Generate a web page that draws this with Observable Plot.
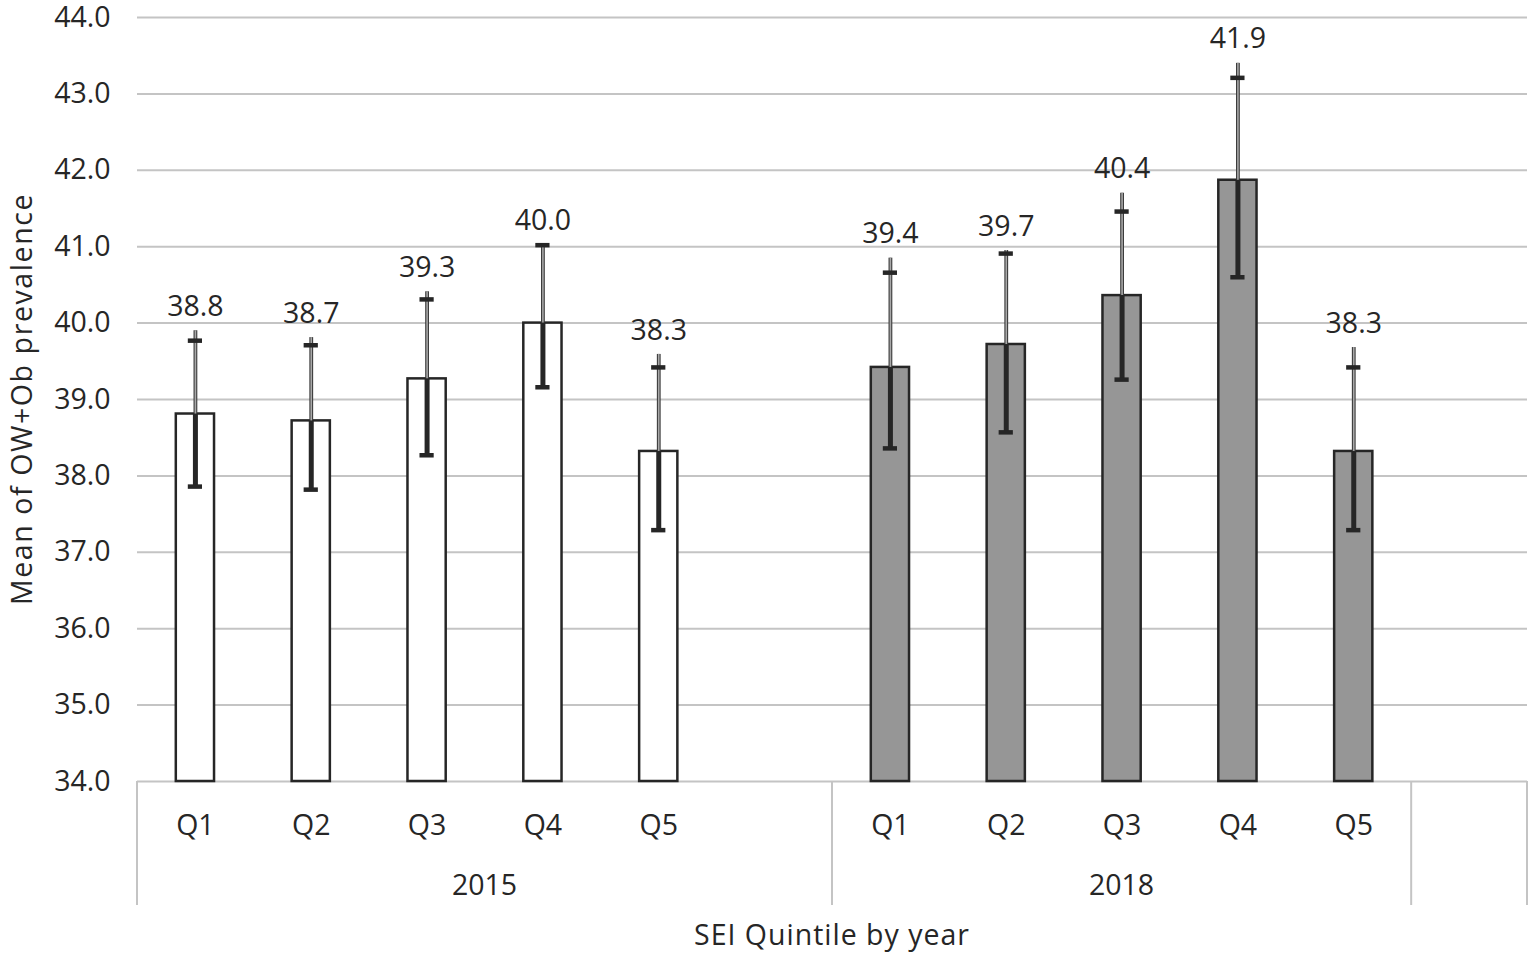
<!DOCTYPE html>
<html><head><meta charset="utf-8">
<script src="https://cdn.jsdelivr.net/npm/d3@7"></script>
<script src="https://cdn.jsdelivr.net/npm/@observablehq/plot@0.6"></script>
<style>html,body{margin:0;padding:0;background:#fff;overflow:hidden}</style>
</head><body><div id="chart"></div>
<script>
// ---- data ----
const years = ["2015", "2018"];
const quintiles = ["Q1", "Q2", "Q3", "Q4", "Q5"];
const mean2015 = [38.81, 38.72, 39.27, 40.00, 38.32];
const mean2018 = [39.42, 39.72, 40.36, 41.87, 38.32];
const lower2015 = [37.86, 37.82, 38.27, 39.16, 37.29];
const lower2018 = [38.36, 38.57, 39.26, 40.60, 37.29];
const upper2015 = [39.77, 39.71, 40.31, 41.02, 39.42];
const upper2018 = [40.66, 40.91, 41.46, 43.21, 39.42];
const whisker2015 = [39.90, 39.81, 40.41, 41.02, 39.59];
const whisker2018 = [40.85, 40.95, 41.70, 43.40, 39.68];
const yTicks = [34, 35, 36, 37, 38, 39, 40, 41, 42, 43, 44];
const yLabel = "Mean of OW+Ob prevalence";
const xLabel = "SEI Quintile by year";

// multi-level category layout (as in the Excel chart): 2015 has a trailing empty slot, then an empty group
const groups = [
  {label: "2015", slots: [...quintiles, ""]},
  {label: "2018", slots: quintiles},
  {label: "", slots: [""]}
];
const domain = groups.flatMap(g => g.slots.map(s => g.label + "|" + s));

const series = {
  "2015": {mean: mean2015, lower: lower2015, upper: upper2015, whisker: whisker2015},
  "2018": {mean: mean2018, lower: lower2018, upper: upper2018, whisker: whisker2018}
};
const data = years.flatMap(yr => quintiles.map((q, i) => ({
  year: yr, q, slot: yr + "|" + q,
  mean: series[yr].mean[i], lower: series[yr].lower[i],
  upper: series[yr].upper[i], whisker: series[yr].whisker[i]
})));

const FONT = "Open Sans";
const FS = 28.5;
const INK = "#262626";
const GRID = "#c4c4c4";

function categoryFrame(index, scales, values, dimensions) {
  const x = scales.x, y = scales.y;
  const bw = x.bandwidth();
  const step = x(domain[1]) - x(domain[0]);
  const pad = (step - bw) / 2;
  const y0 = y(yTicks[0]);
  const yTop = y(yTicks[yTicks.length - 1]);
  const g = d3.create("svg:g");
  const edges = [];
  groups.forEach((grp, gi) => {
    const first = grp.label + "|" + grp.slots[0];
    const last = grp.label + "|" + grp.slots[grp.slots.length - 1];
    const l = x(first) - pad, r = x(last) + bw + pad;
    edges.push(l);
    if (gi === groups.length - 1) edges.push(r);
    if (grp.label) {
      g.append("text").attr("x", (l + r) / 2).attr("y", y0 + 104).attr("dy", "0.35em")
        .attr("text-anchor", "middle").attr("font-size", FS).attr("font-family", FONT)
        .attr("fill", INK).text(grp.label);
    }
  });
  edges.forEach(e => g.append("line").attr("x1", e).attr("x2", e).attr("y1", y0).attr("y2", y0 + 124)
    .attr("stroke", GRID).attr("stroke-width", 2));
  g.append("text").attr("x", (edges[0] + edges[edges.length - 1]) / 2).attr("y", y0 + 154).attr("dy", "0.35em")
    .attr("text-anchor", "middle").attr("font-size", FS).attr("font-family", FONT)
    .attr("letter-spacing", "1px").attr("fill", INK).text(xLabel);
  // y-axis title
  g.append("text").attr("transform", `translate(${edges[0] - 115},${(y0 + yTop) / 2}) rotate(-90)`)
    .attr("dy", "0.35em").attr("text-anchor", "middle").attr("font-size", FS).attr("font-family", FONT)
    .attr("letter-spacing", "1.6px").attr("fill", INK).text(yLabel);
  return g.node();
}

const chart = Plot.plot({
  width: 1536,
  height: 960,
  marginLeft: 137,
  marginRight: 9,
  marginTop: 17,
  marginBottom: 179,
  style: {fontFamily: FONT, fontSize: FS + "px", color: INK, background: "#fff", overflow: "visible"},
  x: {domain, paddingInner: 0.67, paddingOuter: 0.335, round: false, axis: null},
  y: {domain: [34, 44], axis: null},
  marks: [
    Plot.ruleY(yTicks, {stroke: GRID, strokeWidth: 2}),
    Plot.axisY({ticks: yTicks, tickFormat: d => d.toFixed(1), tickSize: 0, tickPadding: 27,
      fontSize: FS, label: null, fill: INK}),
    Plot.barY(data, {x: "slot", y1: yTicks[0], y2: "mean",
      fill: d => d.year === "2015" ? "#ffffff" : "#969696", stroke: INK, strokeWidth: 2.5}),
    Plot.ruleX(data, {x: "slot", y1: "lower", y2: "mean", stroke: INK, strokeWidth: 5}),
    Plot.ruleX(data, {x: "slot", y1: "mean", y2: "whisker", stroke: "#3c3c3c", strokeWidth: 3.8}),
    Plot.ruleX(data, {x: "slot", y1: "mean", y2: "whisker", stroke: "#a8a8a8", strokeWidth: 1.6}),
    Plot.tickY(data, {x: "slot", y: "lower", stroke: INK, strokeWidth: 4.5, insetLeft: 12, insetRight: 12}),
    Plot.tickY(data, {x: "slot", y: "upper", stroke: INK, strokeWidth: 4.5, insetLeft: 12, insetRight: 12}),
    Plot.text(data, {x: "slot", y: "whisker", text: d => d.mean.toFixed(1), dy: -24,
      fontSize: FS, fill: INK}),
    Plot.text(data, {x: "slot", y: yTicks[0], text: "q", dy: 44, fontSize: FS, fill: INK}),
    categoryFrame
  ]
});
document.getElementById("chart").appendChild(chart);
</script>
</body></html>
